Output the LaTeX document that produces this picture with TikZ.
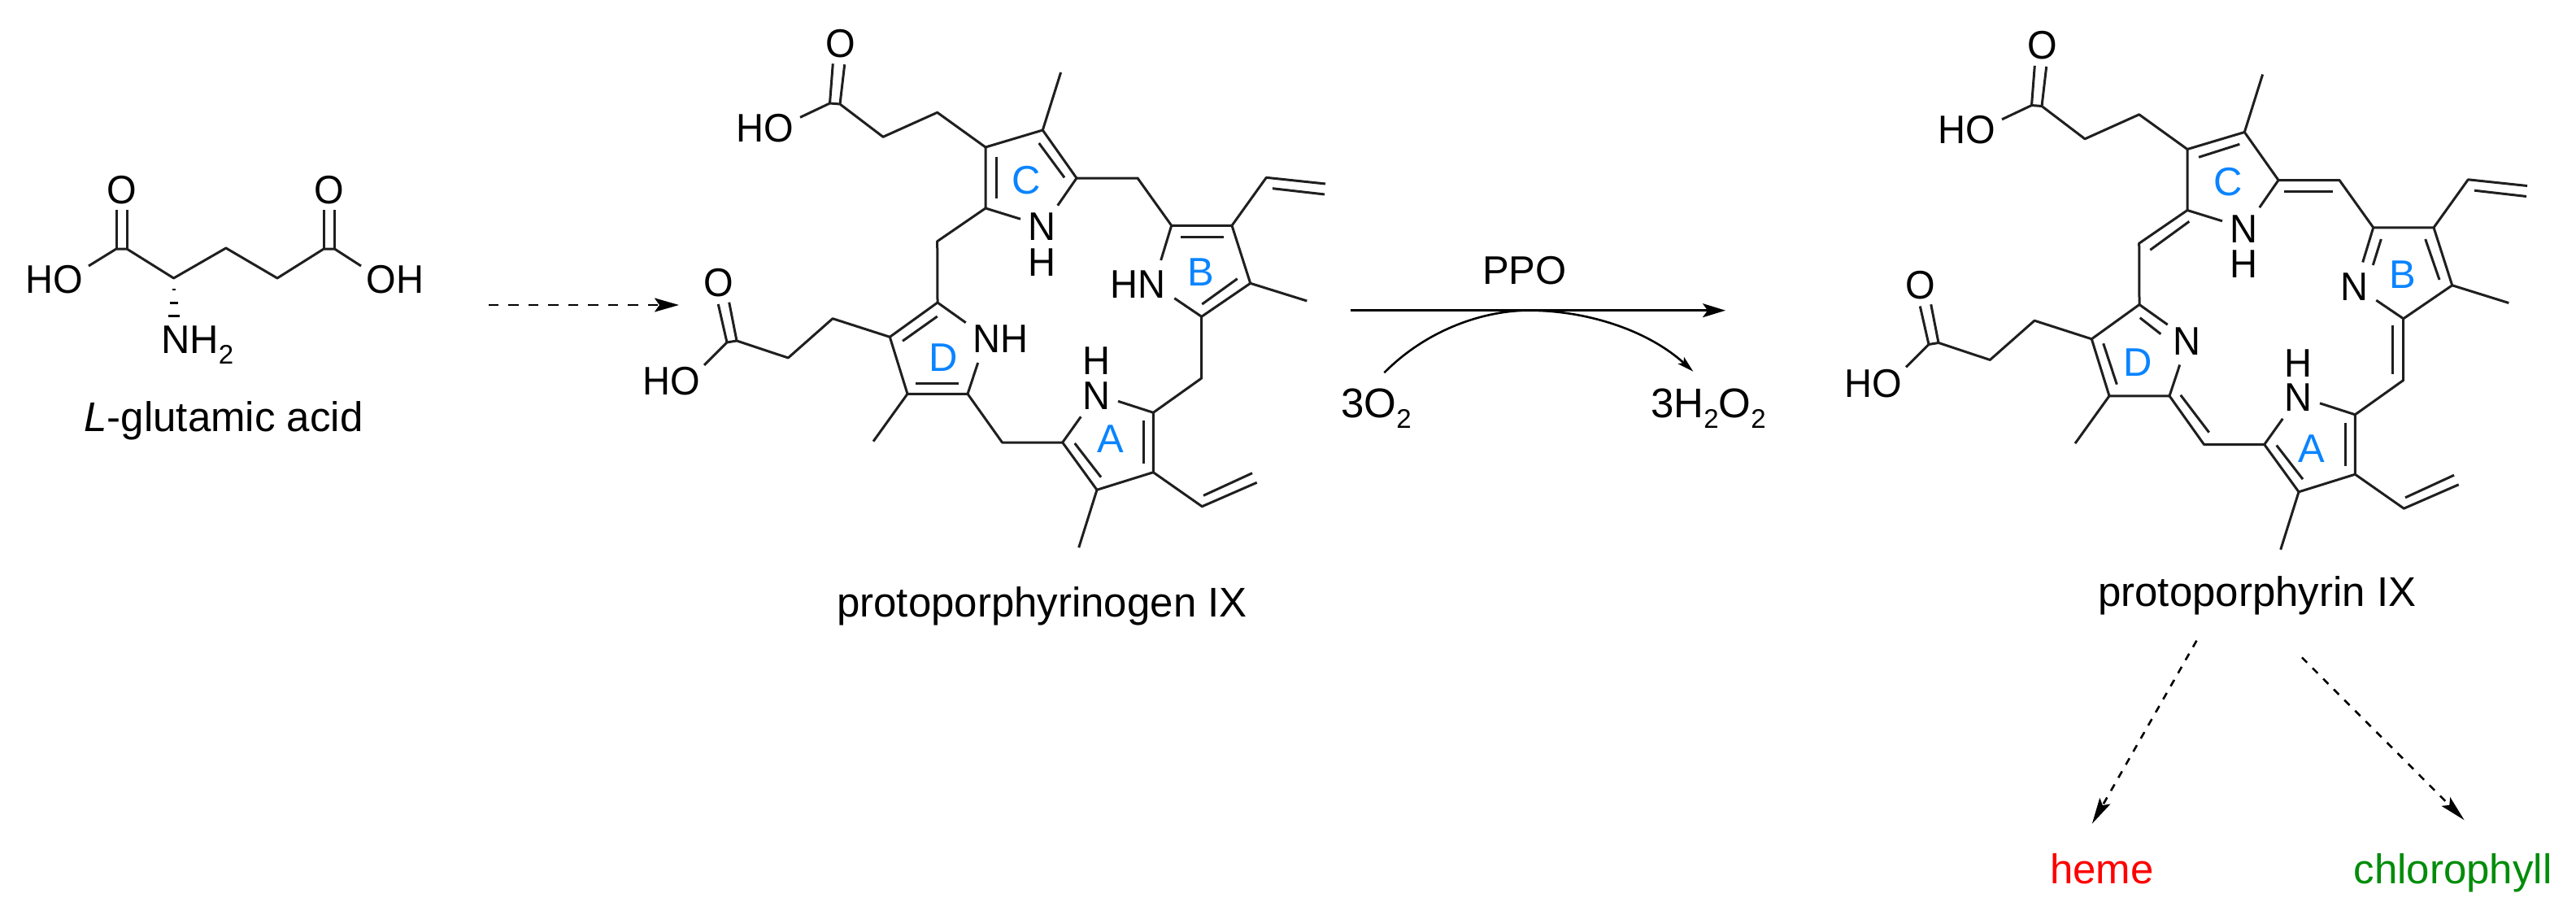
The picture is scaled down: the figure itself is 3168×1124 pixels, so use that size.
\documentclass[tikz,border=0pt]{standalone}
\usepackage{fontspec}
\setmainfont{Liberation Sans}
\usetikzlibrary{arrows.meta}
\newcommand{\subtwo}{\raisebox{-13pt}{\fontsize{33}{33}\selectfont 2}}
\definecolor{ringblue}{RGB}{10,132,255}
\definecolor{chlgreen}{RGB}{0,140,10}
\tikzset{
  bond/.style={line width=3pt,line join=round,color=black!88},
  atomlabel/.style={inner sep=0pt,anchor=base,font=\fontsize{49}{49}\selectfont,transform shape,xscale=.96},
  plainlabel/.style={inner sep=0pt,anchor=base,font=\fontsize{49}{49}\selectfont},
  ringlabel/.style={inner sep=0pt,anchor=base,font=\fontsize{49}{49}\selectfont,text=ringblue},
  caption/.style={inner sep=0pt,anchor=base,font=\fontsize{51}{51}\selectfont},
  dashedarrow/.style={line width=2.6pt,dash pattern=on 12.5pt off 12pt,-{Stealth[length=30pt,width=17pt,inset=6pt]}},
  dashedarrowb/.style={line width=2.6pt,dash pattern=on 9pt off 9.5pt,-{Stealth[length=32pt,width=15pt,inset=6pt]}},
  mainarrow/.style={line width=2.6pt,-{Stealth[length=28pt,width=17pt,inset=6pt]}},
  curvearrow/.style={line width=2.6pt,-{Stealth[length=20pt,width=11pt,inset=4pt]}},
}
% skeleton common to both macrocycles (all single-line bonds and the substituents)
\newcommand{\porphskel}{
  \coordinate (C1) at (1212,181); \coordinate (C2) at (1282.3,160); \coordinate (C3) at (1324,219); \coordinate (C4) at (1212,256);
  \coordinate (cNa) at (1300.7,252.7); \coordinate (cNb) at (1255,269.3);
  \coordinate (M1) at (1399,219); \coordinate (M2) at (1477.7,465); \coordinate (M3) at (1232.5,544); \coordinate (M4) at (1152.7,296.7);
  \coordinate (B1) at (1440.7,277.3); \coordinate (B2) at (1515,277.3); \coordinate (B3) at (1537.7,348.3); \coordinate (B4) at (1477.7,389.3);
  \coordinate (bNa) at (1427.7,320); \coordinate (bNb) at (1444.3,366.7);
  \coordinate (A1) at (1418.3,507.3); \coordinate (A2) at (1418.3,580.7); \coordinate (A3) at (1349,602.3); \coordinate (A4) at (1306.7,544);
  \coordinate (aNa) at (1375,493.3); \coordinate (aNb) at (1329.3,512.3);
  \coordinate (D1) at (1153,372); \coordinate (D2) at (1094.3,414.3); \coordinate (D3) at (1116,484.3); \coordinate (D4) at (1190,484.3);
  \coordinate (dNa) at (1187.7,396.7); \coordinate (dNb) at (1202.7,446);
  % methyls and vinyls
  \coordinate (Me1) at (1304.6,89); \coordinate (Me2) at (1607.3,370); \coordinate (Me3) at (1326.7,673.3); \coordinate (Me4) at (1074,542.7);
  \coordinate (V1) at (1557.3,218.3); \coordinate (V2) at (1630,226); \coordinate (V3) at (1478.3,622.7); \coordinate (V4) at (1545.7,593.3);
  % upper propionate
  \coordinate (Pa) at (1152.7,138.3); \coordinate (Pb) at (1086,168.3); \coordinate (Pc) at (1033,128); \coordinate (Pd) at (1020.5,127);
  \coordinate (Pe) at (984,144.3); \coordinate (Pf) at (1038.7,79.3); \coordinate (Pg) at (1024.3,78.3);
  % lower propionate
  \coordinate (Qa) at (1024,391.7); \coordinate (Qb) at (969.3,440); \coordinate (Qc) at (906,419); \coordinate (Qd) at (894,421);
  \coordinate (Qe) at (866,449); \coordinate (Qf) at (896.7,371.7); \coordinate (Qg) at (883.3,374);
  % ring outlines
  \draw[bond] (cNb) -- (C4) -- (C1) -- (C2) -- (C3) -- (cNa);
  \draw[bond] (bNa) -- (B1) -- (B2) -- (B3) -- (B4) -- (bNb);
  \draw[bond] (aNa) -- (A1) -- (A2) -- (A3) -- (A4) -- (aNb);
  \draw[bond] (dNa) -- (D1) -- (D2) -- (D3) -- (D4) -- (dNb);
  % meso bridges
  \draw[bond] (C3) -- (M1) -- (B1);
  \draw[bond] (B4) -- (M2) -- (A1);
  \draw[bond] (A4) -- (M3) -- (D4);
  \draw[bond] (D1) -- (M4) -- (C4);
  % substituents
  \draw[bond] (C2) -- (Me1);
  \draw[bond] (B3) -- (Me2);
  \draw[bond] (A3) -- (Me3);
  \draw[bond] (D3) -- (Me4);
  \draw[bond] (B2) -- (V1) -- (V2);
  \draw[bond] (A2) -- (V3) -- (V4);
  \draw[bond] (1565,231.7) -- (1629,239);
  \draw[bond] (1480,609.3) -- (1540,581.7);
  \draw[bond] (C1) -- (Pa) -- (Pb) -- (Pc) -- (Pd) -- (Pe);
  \draw[bond] (Pc) -- (Pf);
  \draw[bond] (Pd) -- (Pg);
  \draw[bond] (D2) -- (Qa) -- (Qb) -- (Qc) -- (Qd) -- (Qe);
  \draw[bond] (Qc) -- (Qf);
  \draw[bond] (Qd) -- (Qg);
  % common labels
  \node[atomlabel] (oU) at (1033.3,70.5) {O};
  \node[atomlabel] (hoU) at (941,174) {HO};
  \node[atomlabel] (oL) at (884,364.5) {O};
  \node[atomlabel] (hoL) at (826,485.7) {HO};
  \node[atomlabel] (nC) at (1281.7,295.7) {N};
  \node[atomlabel] (hC) at (1281.7,339) {H};
  \node[atomlabel] (nA) at (1348.3,503.3) {N};
  \node[atomlabel] (hA) at (1348.3,460.7) {H};
  \node[ringlabel] (lC) at (1262,238) {C};
  \node[ringlabel] (lB) at (1476.7,351.7) {B};
  % inner lines common to both
  \draw[bond] (1406,517.3) -- (1406,570);
  \draw[bond] (1321.7,545) -- (1354,586.7);
}
\begin{document}
\begin{tikzpicture}[x=1pt,y=-1pt]
\useasboundingbox (0,0) rectangle (3168,1124);
% ---- L-glutamic acid
\coordinate (g1) at (143,306); \coordinate (g1b) at (156,306);
\coordinate (g2) at (213.6,342); \coordinate (g3) at (277.9,305); \coordinate (g4) at (341,342);
\coordinate (g5) at (398.2,306); \coordinate (g5b) at (411.4,306);
\coordinate (gHO) at (109,327); \coordinate (gOH) at (444,327);
\coordinate (gO1a) at (143,258); \coordinate (gO1b) at (156,258);
\coordinate (gO2a) at (398.2,258); \coordinate (gO2b) at (411.4,258);
\draw[bond] (gHO) -- (g1) -- (g1b) -- (g2) -- (g3) -- (g4) -- (g5) -- (g5b) -- (gOH);
\draw[bond] (g1) -- (gO1a);
\draw[bond] (g1b) -- (gO1b);
\draw[bond] (g5) -- (gO2a);
\draw[bond] (g5b) -- (gO2b);
\draw[line width=2.6pt] (211.6,356) -- (215.6,356);
\draw[line width=2.6pt] (208.6,372.7) -- (218.6,372.7);
\draw[line width=2.6pt] (206.6,388.7) -- (220.6,388.7);
\node[atomlabel] (gOa) at (149.3,250) {O};
\node[atomlabel] (gOb) at (404.3,250) {O};
\node[atomlabel] (gHOt) at (67,360) {HO};
\node[atomlabel] (gOHt) at (486,360) {OH};
\node[plainlabel,anchor=base west] (gNH) at (198,434) {NH\subtwo};
\node[caption] (gcap) at (275,530) {\textit{L}-glutamic acid};
% ---- protoporphyrinogen IX
\begin{scope}
\porphskel
\draw[bond] (1225,192.7) -- (1225,244.3);
\draw[bond] (1277.7,176) -- (1309,218.3);
\draw[bond] (1451.7,291.3) -- (1505,291.3);
\draw[bond] (1478.3,374) -- (1521.7,342.7);
\draw[bond] (1110,419.3) -- (1152.7,389);
\draw[bond] (1125.7,471) -- (1179.3,471);
\node[atomlabel] (hnB) at (1399,366) {HN};
\node[atomlabel] (nhD) at (1230,433.3) {NH};
\node[ringlabel] (lD) at (1160,456.7) {D};
\node[ringlabel] (lA) at (1365.7,556.7) {A};
\end{scope}
\node[caption] (capGen) at (1281.5,758.3) {protoporphyrinogen IX};
% ---- protoporphyrin IX
\begin{scope}[shift={(1478,2.5)}]
\porphskel
\draw[bond] (1226,190.8) -- (1276.3,174.8);
\draw[bond] (1214.3,269.8) -- (1166.3,304.8);
\draw[bond] (1153.7,388.2) -- (1179.3,408.2);
\draw[bond] (1108.7,419.8) -- (1125.3,470.2);
\draw[bond] (1203.7,483.2) -- (1238.7,529.2);
\draw[bond] (1464.7,397.5) -- (1464.7,457.5);
\draw[bond] (1450.3,291.5) -- (1440.3,323.5);
\draw[bond] (1504.7,291.5) -- (1522,341.5);
\draw[bond] (1331.3,232.5) -- (1391,232.5);
\node[atomlabel] (nB) at (1417.7,366.5) {N};
\node[atomlabel] (nD) at (1211.3,433.5) {N};
\node[ringlabel] (lD) at (1151.3,459.8) {D};
\node[ringlabel] (lA) at (1364.7,565.8) {A};
\end{scope}
\node[caption] (capPor) at (2775.8,745) {protoporphyrin IX};
% ---- reaction arrows
\coordinate (aS) at (600.7,375); \coordinate (aE) at (835,375);
\draw[dashedarrow] (aS) -- (aE);
\coordinate (rS) at (1661.3,381.7); \coordinate (rE) at (2122,381.7);
\draw[mainarrow] (rS) -- (rE);
\coordinate (cS) at (1702.3,458.3); \coordinate (cT) at (1880,381.7); \coordinate (cE) at (2082.3,456.7);
\draw[curvearrow] (cS) .. controls (1755,405) and (1825,381.7) .. (cT) .. controls (1950,381.7) and (2025,405) .. (cE);
\node[plainlabel] (ppo) at (1875,349) {PPO};
\node[caption,anchor=base west] (o2) at (1649,513.3) {3O\subtwo};
\node[caption,anchor=base west] (h2o2) at (2030,513.3) {3H\subtwo O\subtwo};
% ---- downstream
\coordinate (hS) at (2701.4,787.7); \coordinate (hE) at (2572.9,1012.7);
\draw[dashedarrowb] (hS) -- (hE);
\coordinate (clS) at (2830.9,808.3); \coordinate (clE) at (3030.6,1008.3);
\draw[dashedarrowb] (clS) -- (clE);
\node[caption,text=red] (heme) at (2585,1086) {heme};
\node[caption,text=chlgreen] (chl) at (3016.5,1086) {chlorophyll};
\end{tikzpicture}
\end{document}
